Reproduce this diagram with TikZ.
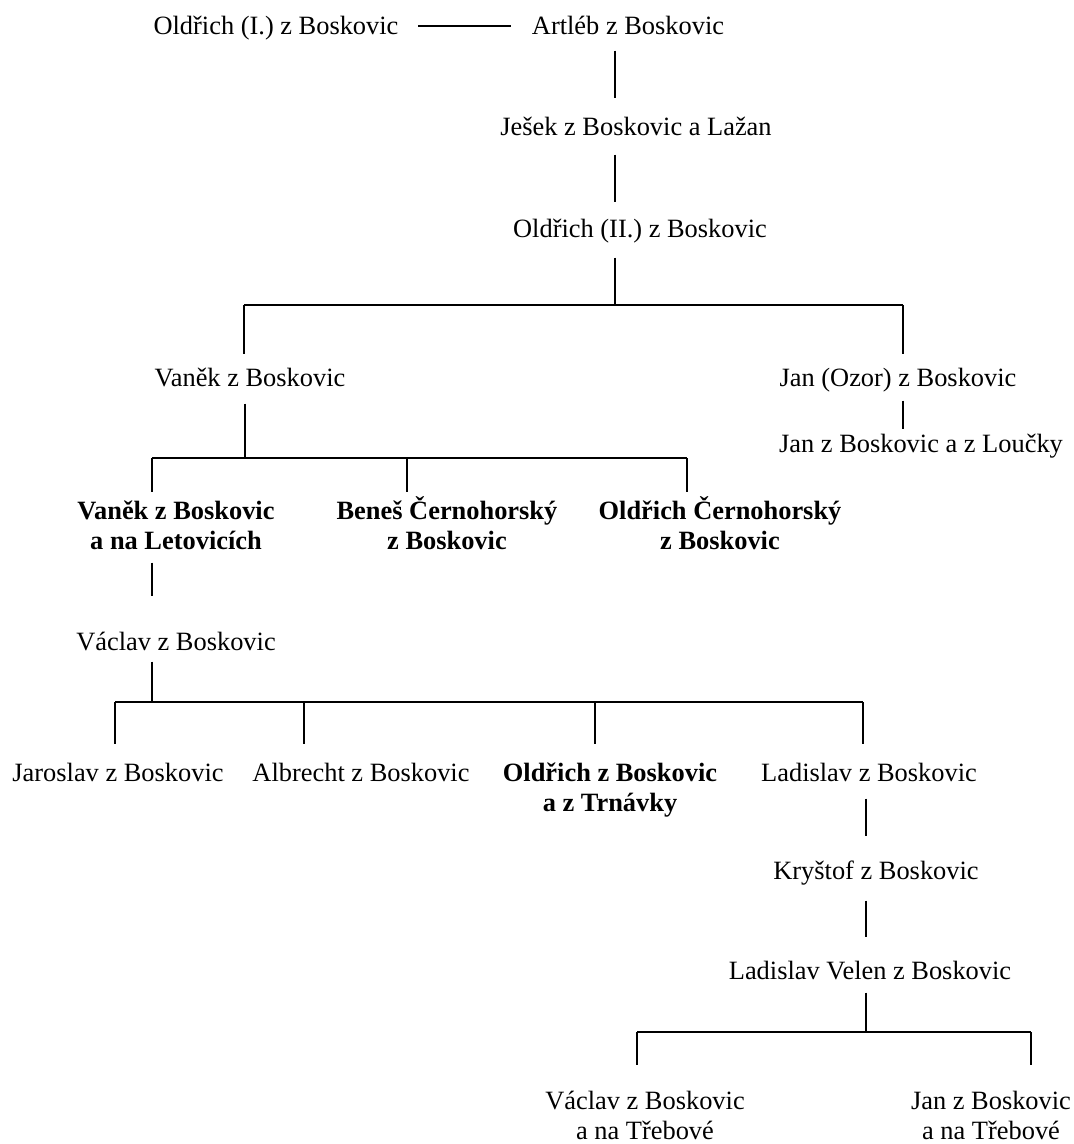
\documentclass[tikz,border=0pt]{standalone}
\usepackage{fontspec}
\setmainfont{Liberation Serif}
\tikzset{
  person/.style={inner sep=0pt, font=\fontsize{13.2}{15}\selectfont},
  one/.style={person, text height=9pt, text depth=0pt},
  two/.style={person, align=center},
  heir/.style={two, font=\fontsize{13.2}{15}\selectfont\bfseries},
}
\begin{document}
\begin{tikzpicture}[x=0.5pt,y=-0.5pt,line width=0.7pt]
      \useasboundingbox (0,0) rectangle (1074,1144);
      \draw
        (276,26) node[one] (o1){Oldřich (I.) z Boskovic}
        (628,26) node[one] (artleb){Artléb z Boskovic}
        (636,127) node[one] (jesek){Ješek z Boskovic a Lažan}
        (640,229) node[one] (o2){Oldřich (II.) z Boskovic}
        (250,377) node[one] (vanek){Vaněk z Boskovic}
        (898,377) node[one] (janozor){Jan (Ozor) z Boskovic}
        (921,443) node[one] (loucky){Jan z Boskovic a z Loučky}
        (176,528) node[heir] (vanekb){\strut Vaněk z Boskovic\\a na Letovicích\strut}
        (447,528) node[heir] (benes){\strut Beneš Černohorský\\z Boskovic\strut}
        (720,528) node[heir] (oldrc){\strut Oldřich Černohorský\\z Boskovic\strut}
        (176,641) node[one] (vaclav){Václav z Boskovic}
        (118,772) node[one] (jaroslav){Jaroslav z Boskovic}
        (361,772) node[one] (albrecht){Albrecht z Boskovic}
        (610,790) node[heir] (oldrz){\strut Oldřich z Boskovic\\a z Trnávky\strut}
        (869,772) node[one] (ladislav){Ladislav z Boskovic}
        (876,870) node[one] (krystof){Kryštof z Boskovic}
        (870,970) node[one] (velen){Ladislav Velen z Boskovic}
        (645,1118) node[two] (vaclavt){\strut Václav z Boskovic\\a na Třebové\strut}
        (991,1118) node[two] (jant){\strut Jan z Boskovic\\a na Třebové\strut};
      \coordinate (b1) at (615,305);
      \coordinate (b1l) at (244,305);
      \coordinate (b1r) at (903,305);
      \coordinate (b2) at (245,458);
      \coordinate (b2l) at (152,458);
      \coordinate (b2m) at (407,458);
      \coordinate (b2r) at (687,458);
      \coordinate (b3) at (152,702);
      \coordinate (b3a) at (115,702);
      \coordinate (b3b) at (304,702);
      \coordinate (b3c) at (595,702);
      \coordinate (b3d) at (863,702);
      \coordinate (b4) at (866,1032);
      \coordinate (b4l) at (637,1032);
      \coordinate (b4r) at (1031,1032);
      \begin{scope}[-]
        \draw[shorten <=9.5pt, shorten >=10pt] (o1) to (artleb);
        \draw[shorten <=7.5pt, shorten >=9.5pt] (artleb.south -| b1) to (jesek.north -| b1);
        \draw[shorten <=9pt, shorten >=8.5pt] (jesek.south -| b1) to (o2.north -| b1);
        \draw[shorten <=9.5pt] (o2.south -| b1) to (b1);
        \draw (b1l) to (b1r);
        \draw[shorten >=6.5pt] (b1l) to (b1l |- vanek.north);
        \draw[shorten >=6.5pt] (b1r) to (b1r |- janozor.north);
        \draw[shorten <=7pt, shorten >=2pt] (janozor.south -| b1r) to (loucky.north -| b1r);
        \draw[shorten <=8.5pt] (vanek.south -| b2) to (b2);
        \draw (b2l) to (b2r);
        \draw[shorten >=2.5pt] (b2l) to (b2l |- vanekb.north);
        \draw[shorten >=2.5pt] (b2m) to (b2m |- vanekb.north);
        \draw[shorten >=2.5pt] (b2r) to (b2r |- vanekb.north);
        \draw[shorten <=2pt, shorten >=17.5pt] (vanekb.south -| b2l) to (vaclav.north -| b2l);
        \draw[shorten <=5.5pt] (vaclav.south -| b3) to (b3);
        \draw (b3a) to (b3d);
        \draw[shorten >=9pt] (b3a) to (b3a |- jaroslav.north);
        \draw[shorten >=9pt] (b3b) to (b3b |- albrecht.north);
        \draw[shorten >=9pt] (b3c) to (b3c |- jaroslav.north);
        \draw[shorten >=9pt] (b3d) to (b3d |- ladislav.north);
        \draw[shorten <=8.5pt, shorten >=12pt] (ladislav.south -| b4) to (krystof.north -| b4);
        \draw[shorten <=10.5pt, shorten >=11.5pt] (krystof.south -| b4) to (velen.north -| b4);
        \draw[shorten <=6.5pt] (velen.south -| b4) to (b4);
        \draw (b4l) to (b4r);
        \draw[shorten >=11pt] (b4l) to (b4l |- vaclavt.north);
        \draw[shorten >=11pt] (b4r) to (b4r |- jant.north);
      \end{scope}
    \end{tikzpicture}
\end{document}
